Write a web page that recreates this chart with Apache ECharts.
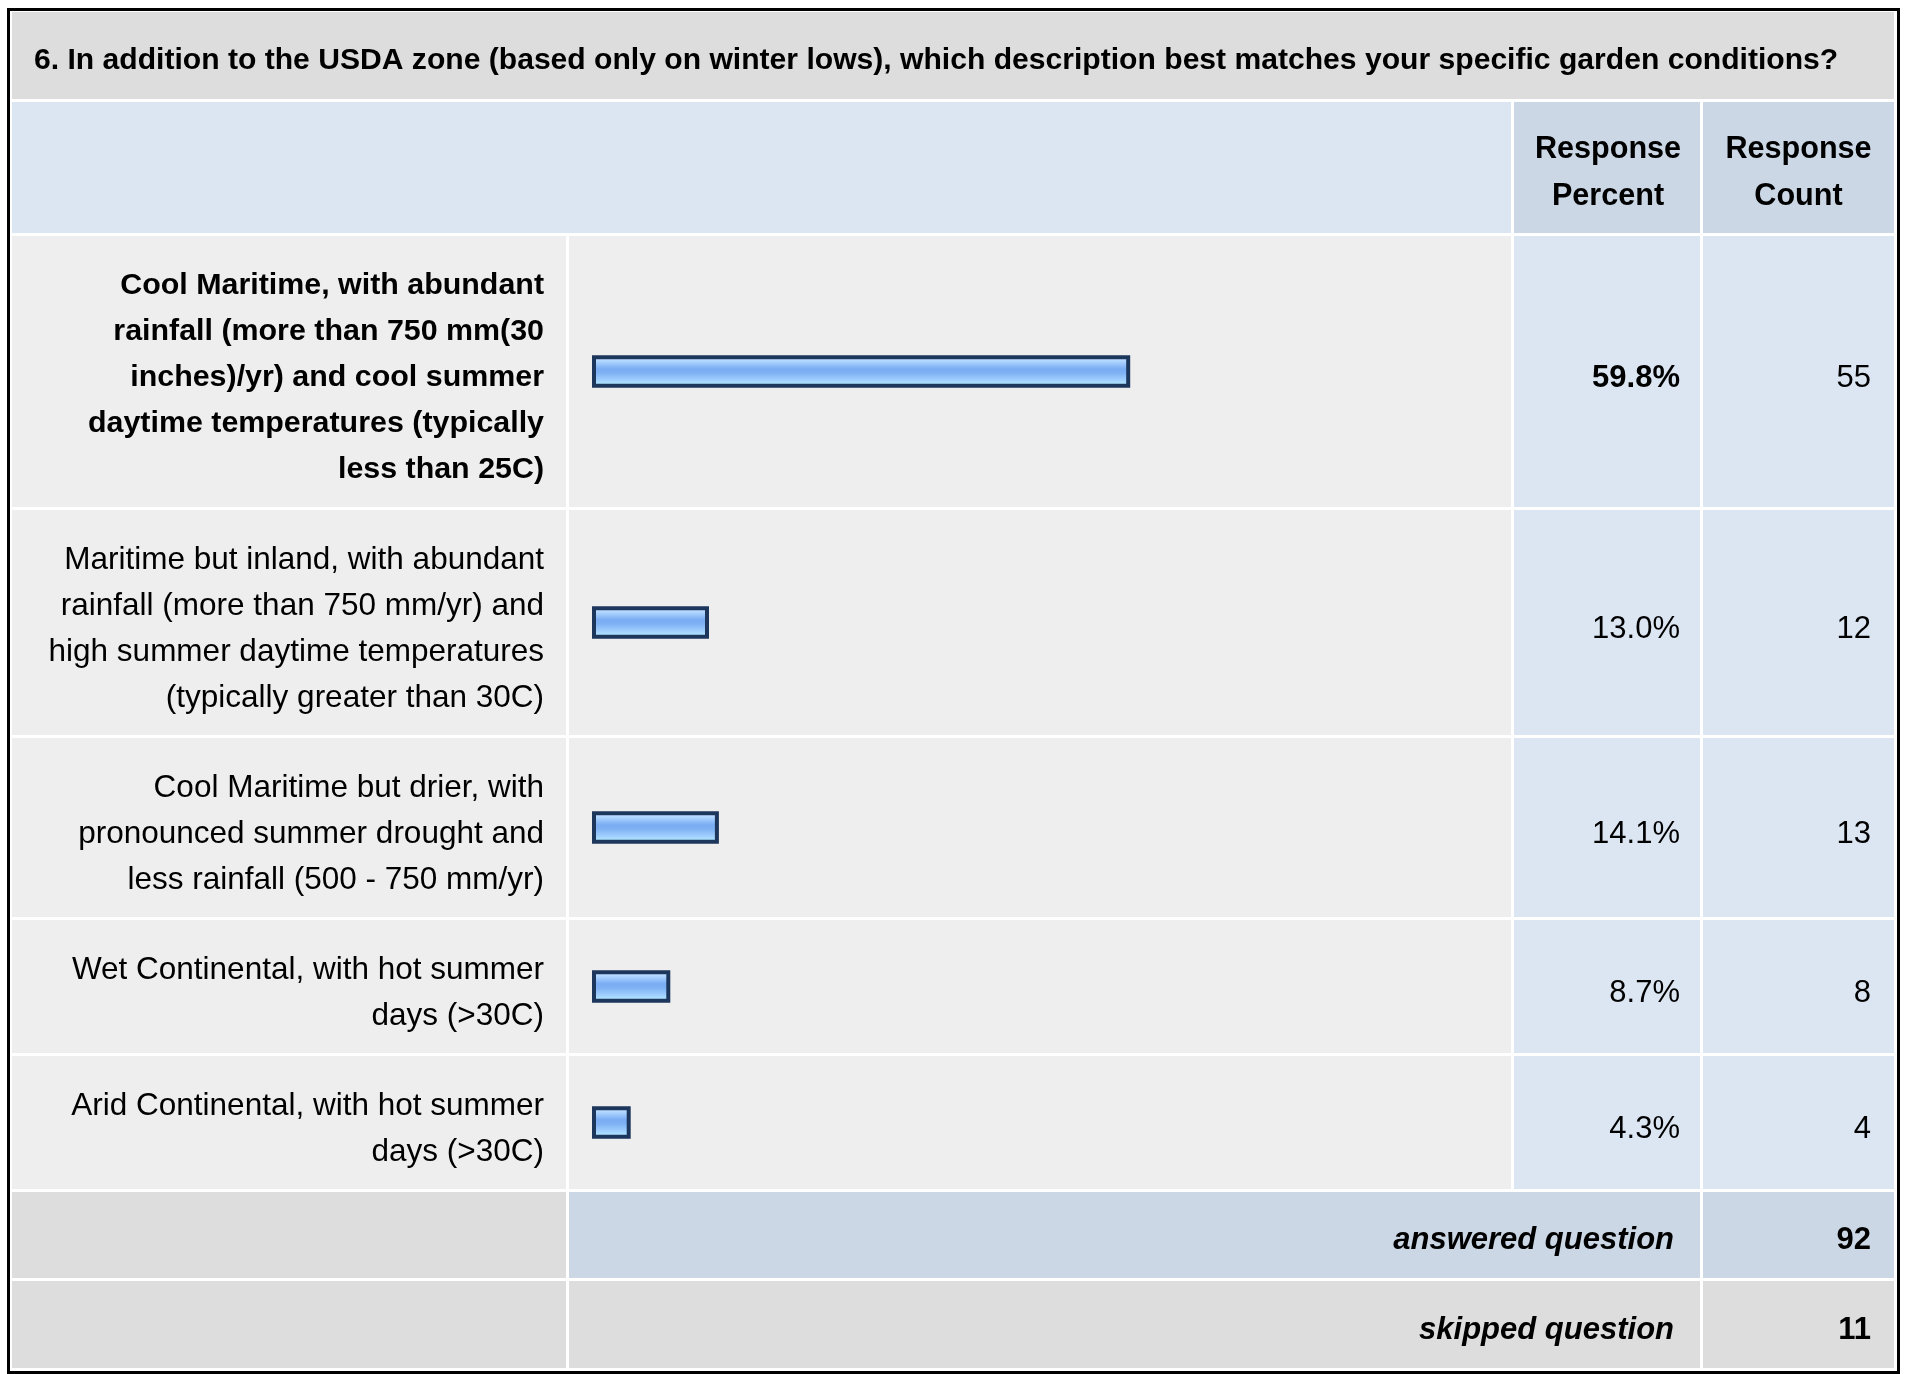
<!DOCTYPE html>
<html>
<head>
<meta charset="utf-8">
<script src="https://cdn.jsdelivr.net/npm/echarts@6/dist/echarts.min.js"></script>
<style>
html,body{margin:0;padding:0;background:#fff;}
#chart{width:1909px;height:1374px;}
</style>
</head>
<body>
<div id="chart"></div>
<script>
// ---- data ----
const title = "6. In addition to the USDA zone (based only on winter lows), which description best matches your specific garden conditions?";
const categories = [
  "Cool Maritime, with abundant\nrainfall (more than 750 mm(30\ninches)/yr) and cool summer\ndaytime temperatures (typically\nless than 25C)",
  "Maritime but inland, with abundant\nrainfall (more than 750 mm/yr) and\nhigh summer daytime temperatures\n(typically greater than 30C)",
  "Cool Maritime but drier, with\npronounced summer drought and\nless rainfall (500 - 750 mm/yr)",
  "Wet Continental, with hot summer\ndays (>30C)",
  "Arid Continental, with hot summer\ndays (>30C)"
];
const percents = [59.8, 13.0, 14.1, 8.7, 4.3];
const counts = [55, 12, 13, 8, 4];
const headerLabels = ["Response\nPercent", "Response\nCount"];
const summaryLabels = ["answered question", "skipped question"];
const summaryValues = [92, 11];

// ---- layout ----
const FONT = "'Liberation Sans', Arial, Helvetica, sans-serif";
const LINE = 46;
const col = { l0: 12, l1: 566, b0: 569, b1: 1511, p0: 1514, p1: 1700, c0: 1703, c1: 1894 };
const GAP = 3;
const C_TITLE = '#DDDDDD', C_HEAD = '#DCE6F3', C_HEAD2 = '#CBD7E5', C_ROW = '#EEEEEE', C_VAL = '#DCE6F3';

const graphics = [];
function rect(x0, y0, x1, y1, fill) {
  graphics.push({ type: 'rect', silent: true, z: 0, shape: { x: x0, y: y0, width: x1 - x0, height: y1 - y0 }, style: { fill: fill } });
}
function text(x, y, str, align, opts) {
  opts = opts || {};
  graphics.push({
    type: 'text', silent: true, z: 10, x: x, y: y,
    style: {
      text: str, fill: '#000', fontFamily: FONT,
      fontSize: opts.size || 31, fontWeight: opts.bold ? 'bold' : 'normal',
      fontStyle: opts.italic ? 'italic' : 'normal',
      textAlign: align, textVerticalAlign: 'middle', lineHeight: opts.lh || LINE
    }
  });
}

// frame
graphics.push({ type: 'rect', silent: true, z: 1, shape: { x: 8.5, y: 9.5, width: 1890, height: 1363 }, style: { fill: 'none', stroke: '#000', lineWidth: 3 } });

// title row
const titleTop = 12, titleBot = 99;
rect(col.l0, titleTop, col.c1, titleBot, C_TITLE);
text(34, 61, title, 'left', { bold: true, size: 30.1 });

// header row
const headTop = titleBot + GAP, headBot = 233;
rect(col.l0, headTop, col.b1, headBot, C_HEAD);
rect(col.p0, headTop, col.p1, headBot, C_HEAD2);
rect(col.c0, headTop, col.c1, headBot, C_HEAD2);
const headMid = (headTop + headBot) / 2 + 5.5;
text((col.p0 + col.p1) / 2 + 1, headMid, headerLabels[0], 'center', { bold: true, lh: 47, size: 30.6 });
text((col.c0 + col.c1) / 2, headMid, headerLabels[1], 'center', { bold: true, lh: 47, size: 30.6 });

// data rows
const maxIdx = percents.indexOf(Math.max.apply(null, percents));
let y = headBot + GAP;
const rowCenters = [];
categories.forEach(function (cat, i) {
  const n = cat.split('\n').length;
  const h = n * LINE + 44 - GAP;
  const top = y, bot = y + h;
  rect(col.l0, top, col.l1, bot, C_ROW);
  rect(col.b0, top, col.b1, bot, C_ROW);
  rect(col.p0, top, col.p1, bot, C_VAL);
  rect(col.c0, top, col.c1, bot, C_VAL);
  const mid = (top + bot) / 2;
  rowCenters.push(mid);
  const bold = i === maxIdx;
  text(544, mid + 6.5, cat, 'right', { bold: bold, size: bold ? 30.4 : 31.5 });
  text(1680, mid + 6.5, percents[i].toFixed(1) + '%', 'right', { bold: bold });
  text(1871, mid + 6.5, String(counts[i]), 'right');
  y = bot + GAP;
});

// summary rows
const sumH = [86, 87];
const sumFill = [C_HEAD2, C_TITLE];
summaryLabels.forEach(function (lab, i) {
  const top = y, bot = y + sumH[i];
  rect(col.l0, top, col.l1, bot, C_TITLE);
  rect(col.b0, top, col.p1, bot, sumFill[i]);
  rect(col.c0, top, col.c1, bot, sumFill[i]);
  const mid = (top + bot) / 2 + 5.5;
  text(1674, mid, lab, 'right', { bold: true, italic: true });
  text(1871, mid, String(summaryValues[i]), 'right', { bold: true });
  y = bot + GAP;
});

// ---- bars: one grid per row ----
const GRID_H = 44, BAR_W = 32.5;
const grids = [], xAxes = [], yAxes = [], series = [];
const barGradient = {
  type: 'linear', x: 0, y: 0, x2: 0, y2: 1,
  colorStops: [
    { offset: 0, color: '#D6ECFF' },
    { offset: 0.2, color: '#ACD3FF' },
    { offset: 0.42, color: '#79ACF2' },
    { offset: 0.55, color: '#7FB2F4' },
    { offset: 0.8, color: '#A6D4FF' },
    { offset: 1, color: '#B6FFFF' }
  ]
};
categories.forEach(function (cat, i) {
  grids.push({ left: 592, width: 900, top: rowCenters[i] - GRID_H / 2, height: GRID_H, containLabel: false });
  xAxes.push({ type: 'value', gridIndex: i, min: 0, max: 100, show: false });
  yAxes.push({ type: 'category', gridIndex: i, data: [cat], show: false });
  series.push({
    type: 'bar', xAxisIndex: i, yAxisIndex: i, data: [percents[i]],
    barWidth: BAR_W, silent: true,
    itemStyle: { color: barGradient, borderColor: '#1C365C', borderWidth: 4 }
  });
});

const chart = echarts.init(document.getElementById('chart'), null, { renderer: 'canvas' });
chart.setOption({
  animation: false,
  backgroundColor: '#fff',
  grid: grids, xAxis: xAxes, yAxis: yAxes, series: series,
  graphic: { elements: graphics }
});
</script>
</body>
</html>
